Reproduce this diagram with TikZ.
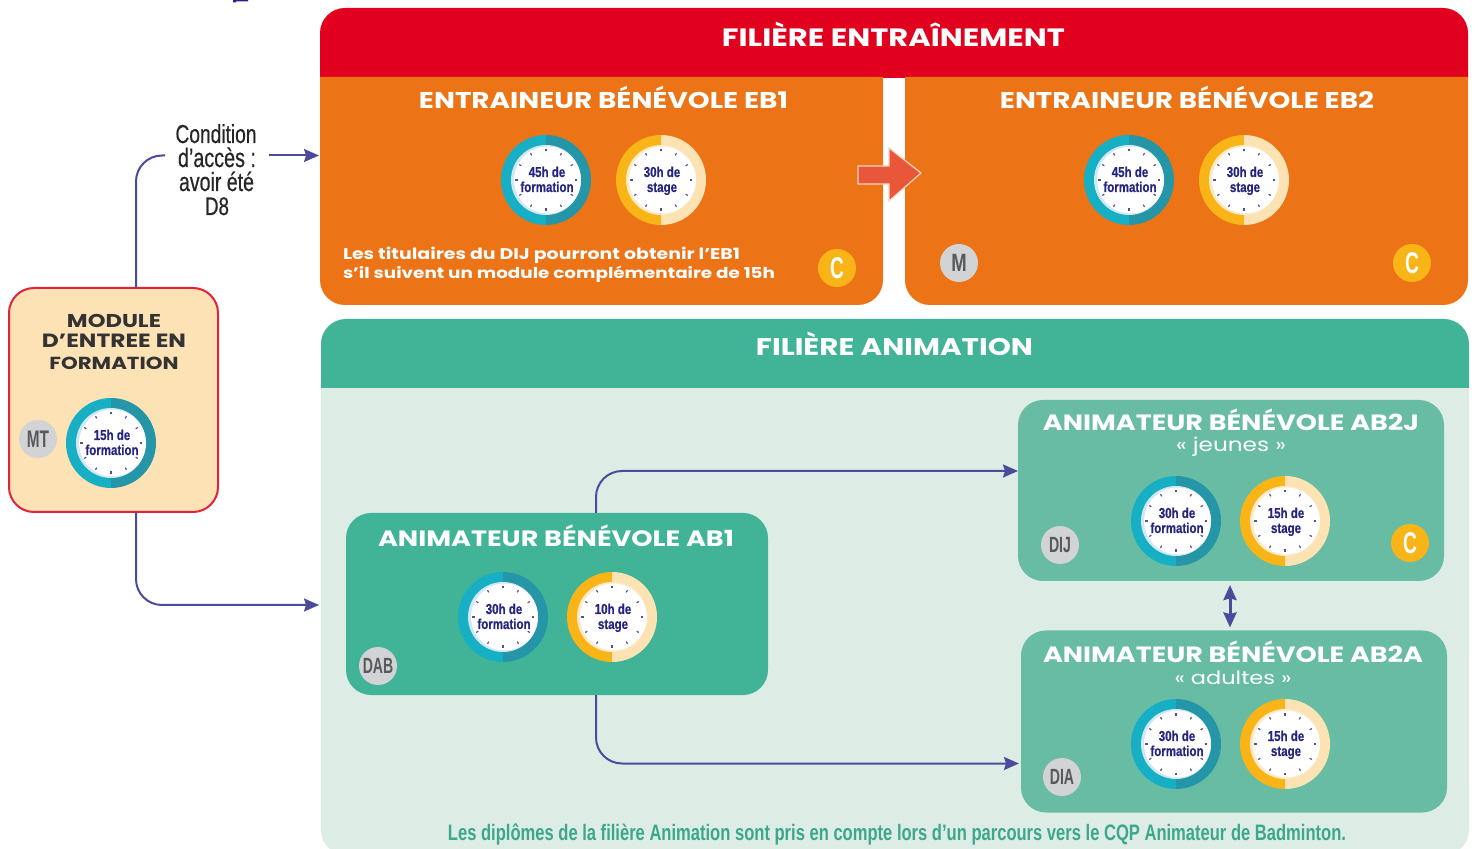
\documentclass[tikz,border=0pt]{standalone}
\usepackage{fontspec}
\usepackage{graphicx}
\usetikzlibrary{arrows.meta}
\newfontfamily\wide[FakeStretch=1.22]{Poppins}
\newfontfamily\cond[FakeStretch=0.74]{Liberation Sans}
\newfontfamily\condreg[FakeStretch=0.74,FakeBold=0.5]{Liberation Sans}
\newfontfamily\clockf[FakeStretch=0.8,BoldFeatures={FakeBold=0.6}]{Liberation Sans}
\newfontfamily\condn[FakeStretch=0.64]{Liberation Sans}
\definecolor{redhead}{HTML}{E2001F}
\definecolor{orangep}{HTML}{EC7316}
\definecolor{greenhead}{HTML}{41B498}
\definecolor{greenbody}{HTML}{DDEDE6}
\definecolor{greenbox}{HTML}{67BCA3}
\definecolor{cream}{HTML}{FDE2B5}
\definecolor{modred}{HTML}{E2233B}
\definecolor{linecol}{HTML}{4C4A9A}
\definecolor{navy}{HTML}{25257F}
\definecolor{teala}{HTML}{16AFC4}
\definecolor{tealb}{HTML}{2596A8}
\definecolor{tealtint}{HTML}{CFE8F4}
\definecolor{yela}{HTML}{F9B418}
\definecolor{yelb}{HTML}{FDE3B4}
\definecolor{yeltint}{HTML}{FDEBC8}
\definecolor{badgegray}{HTML}{D2D3D5}
\definecolor{darktxt}{HTML}{58595B}
\definecolor{arrowred}{HTML}{E9573A}
\definecolor{arrowedge}{HTML}{FBD5BF}
\definecolor{bottomtxt}{HTML}{3BA78C}
\newcommand{\fitw}[2]{\resizebox{\dimexpr #1pt/2\relax}{!}{#2}}
\tikzset{
  tx/.style={inner sep=0pt,outer sep=0pt,anchor=base},
  panelbox/.style={rounded corners=12.5pt,minimum width=#1,inner sep=0pt,outer sep=0pt},
  conn/.style={draw=linecol,line width=1pt,rounded corners=13pt,-{Stealth[length=7.5pt,width=6.5pt,inset=1pt]}},
  connplain/.style={draw=linecol,line width=1pt,rounded corners=13pt},
  badge/.style={circle,inner sep=0pt,minimum size=19pt,font=\condn\bfseries\fontsize{11}{12}\selectfont},
  graybadge/.style={badge,fill=badgegray,text=darktxt},
  bigbadge/.style={graybadge,font=\cond\bfseries\fontsize{12.5}{13}\selectfont},
  yelbadge/.style={badge,fill=yela,text=white,font=\condn\fontsize{15}{16}\selectfont\bfseries},
  clocktxt/.style={tx,text=navy,font=\clockf\bfseries\fontsize{7.2}{8}\selectfont},
}
% #1 name, #2 x, #3 y, #4 ring left, #5 ring right, #6 tint, #7 line 1, #8 line 2
\newcommand{\clock}[8]{%
  \begin{scope}[shift={(#2,#3)},x=0.5pt,y=0.5pt]
    \fill[#4] (0,45) arc[start angle=90,end angle=270,radius=22.5pt] -- cycle;
    \fill[#5] (0,-45) arc[start angle=-90,end angle=90,radius=22.5pt] -- cycle;
    \fill[#6] (0,0) circle[radius=17.5pt];
    \fill[white] (1.5,0) circle[radius=16.7pt];
    \foreach \a in {0,30,...,330}{\draw[navy!80,line width=0.6pt] (\a:28.5) -- (\a:31);}
    \node[clocktxt] (#1a) at (1,3) {#7};
    \node[clocktxt] (#1b) at (1,-12) {#8};
  \end{scope}}
\newcommand{\fclock}[5]{\clock{#1}{#2}{#3}{teala}{tealb}{tealtint}{#4}{#5}}
\newcommand{\sclock}[5]{\clock{#1}{#2}{#3}{yela}{yelb}{yeltint}{#4}{#5}}
\begin{document}
\begin{tikzpicture}[x=0.5pt,y=-0.5pt]
\useasboundingbox (0,0) rectangle (1478,849);
\clip (0,0) rectangle (1478,849);
\fill[white] (0,0) rectangle (1478,849);
% stray mark at the top
\fill[navy] (233,2.5) -- (233,0) -- (248,0) -- (248,1.5) -- (236,1.5) -- (236,2.5) -- cycle;
% entrainement
\fill[redhead] (320,78) -- (320,33) arc[start angle=180,end angle=90,radius=12.5pt] -- (1443,8) arc[start angle=90,end angle=0,radius=12.5pt] -- (1468,78) -- cycle;
\fill[orangep] (320,77) -- (320,280) arc[start angle=180,end angle=270,radius=12.5pt] -- (858,305) arc[start angle=270,end angle=360,radius=12.5pt] -- (883,77) -- cycle;
\fill[orangep] (905,77) -- (905,280) arc[start angle=180,end angle=270,radius=12.5pt] -- (1443,305) arc[start angle=270,end angle=360,radius=12.5pt] -- (1468,77) -- cycle;
\node[tx,text=white,font=\wide\bfseries] (tE) at (893.5,47) {\fitw{343}{FILIÈRE ENTRAÎNEMENT}};
\node[tx,text=white,font=\wide\bfseries] (tEB1) at (603.5,109) {\fitw{369}{ENTRAINEUR BÉNÉVOLE EB1}};
\node[tx,text=white,font=\wide\bfseries] (tEB2) at (1187,109) {\fitw{374}{ENTRAINEUR BÉNÉVOLE EB2}};
\fclock{ca}{546}{180}{45h de}{formation}
\sclock{cb}{661}{180}{30h de}{stage}
\fclock{cc}{1129}{180}{45h de}{formation}
\sclock{cd}{1244}{180}{30h de}{stage}
\node[tx,anchor=base west,text=white,font=\wide\bfseries] (n1) at (343,260) {\fitw{397}{Les titulaires du DIJ pourront obtenir l’EB1}};
\node[tx,anchor=base west,text=white,font=\wide\bfseries] (n2) at (343,279) {\fitw{432}{s’il suivent un module complémentaire de 15h}};
\node[yelbadge] (bC1) at (837,268) {C};
\node[bigbadge] (bM) at (959,263) {M};
\node[yelbadge] (bC2) at (1412,263) {C};
% red arrow
\filldraw[fill=arrowred,draw=arrowedge,line width=0.6pt] (858,166) -- (889,166) -- (889,148) -- (921,173) -- (889,201) -- (889,184) -- (858,184) -- cycle;
% animation
\fill[greenbody] (321,387) -- (321,830) arc[start angle=180,end angle=270,radius=12.5pt] -- (1444,855) arc[start angle=270,end angle=360,radius=12.5pt] -- (1469,387) -- cycle;
\fill[greenhead] (321,388) -- (321,344) arc[start angle=180,end angle=90,radius=12.5pt] -- (1444,319) arc[start angle=90,end angle=0,radius=12.5pt] -- (1469,388) -- cycle;
\node[tx,text=white,font=\wide\bfseries] (tA) at (894.5,356) {\fitw{277}{FILIÈRE ANIMATION}};
\node[panelbox=211pt,minimum height=91pt,fill=greenhead] (ab1) at (557,604) {};
\node[panelbox=213pt,minimum height=90.5pt,fill=greenbox] (ab2j) at (1231,490.5) {};
\node[panelbox=213pt,minimum height=91pt,fill=greenbox] (ab2a) at (1234,721.5) {};
\node[tx,text=white,font=\wide\bfseries] (tAB1) at (556,547) {\fitw{356}{ANIMATEUR BÉNÉVOLE AB1}};
\node[tx,text=white,font=\wide\bfseries] (tJ) at (1231,431) {\fitw{376}{ANIMATEUR BÉNÉVOLE AB2J}};
\node[tx,text=white,font=\wide] (tJ2) at (1231,452) {\fitw{110}{« jeunes »}};
\node[tx,text=white,font=\wide\bfseries] (tD) at (1233,663) {\fitw{380}{ANIMATEUR BÉNÉVOLE AB2A}};
\node[tx,text=white,font=\wide] (tD2) at (1233,684) {\fitw{117}{« adultes »}};
\fclock{ce}{503}{617}{30h de}{formation}
\sclock{cf}{612}{617}{10h de}{stage}
\fclock{cg}{1176}{521}{30h de}{formation}
\sclock{ch}{1285}{521}{15h de}{stage}
\fclock{ci}{1176}{744}{30h de}{formation}
\sclock{cj}{1285}{744}{15h de}{stage}
\node[graybadge] (bDIJ) at (1060,545) {DIJ};
\node[yelbadge] (bC3) at (1410,543) {C};
\node[graybadge] (bDAB) at (378,666) {DAB};
\node[graybadge] (bDIA) at (1062,777) {DIA};
\node[tx,text=bottomtxt,font=\cond\bfseries] (bot) at (897,840) {\fitw{898}{Les diplômes de la filière Animation sont pris en compte lors d’un parcours vers le CQP Animateur de Badminton.}};
% module
\node[panelbox=104.5pt,minimum height=112pt,fill=cream,draw=modred,line width=1pt] (module) at (113.5,400) {};
\node[tx,text=black!80,font=\wide\bfseries] (m1) at (114,328) {\fitw{94}{MODULE}};
\node[tx,text=black!80,font=\wide\bfseries] (m2) at (114,348) {\fitw{144}{D’ENTREE EN}};
\node[tx,text=black!80,font=\wide\bfseries] (m3) at (114,370) {\fitw{129}{FORMATION}};
\node[bigbadge,font=\condn\bfseries\fontsize{12}{13}\selectfont] (bMT) at (38,439) {MT};
\fclock{ck}{111}{443}{15h de}{formation}
% condition label
\node[tx,text=black!85,font=\condreg] (c1) at (216,143) {\fitw{81}{Condition}};
\node[tx,text=black!85,font=\condreg] (c2) at (217,167) {\fitw{78}{d’accès :}};
\node[tx,text=black!85,font=\condreg] (c3) at (216.5,191) {\fitw{75}{avoir été}};
\node[tx,text=black!85,font=\condreg] (c4) at (217,215) {\fitw{24}{D8}};
% connectors
\coordinate (upL) at (165,155.5);
\coordinate (upR) at (269,155.5);
\coordinate (eb1in) at (319,155.5);
\coordinate (ab1in) at (319,605);
\draw[connplain] ([xshift=11.25pt]module.north) |- (upL);
\draw[conn] (upR) -- (eb1in);
\draw[conn] ([xshift=11.25pt]module.south) |- (ab1in);
\draw[conn] ([xshift=19.5pt]ab1.north) |- ([yshift=9.75pt]ab2j.west);
\draw[conn] ([xshift=19.5pt]ab1.south) |- ([xshift=-1pt,yshift=-21pt]ab2a.west);
\draw[draw=linecol,line width=1.5pt,{Stealth[length=7.5pt,width=6.5pt,inset=0.8pt]}-{Stealth[length=7.5pt,width=6.5pt,inset=0.8pt]},shorten <=2pt,shorten >=1.5pt] ([xshift=-0.5pt]ab2j.south) -- ([xshift=-0.5pt]ab2j.south |- ab2a.north);
\end{tikzpicture}
\end{document}
